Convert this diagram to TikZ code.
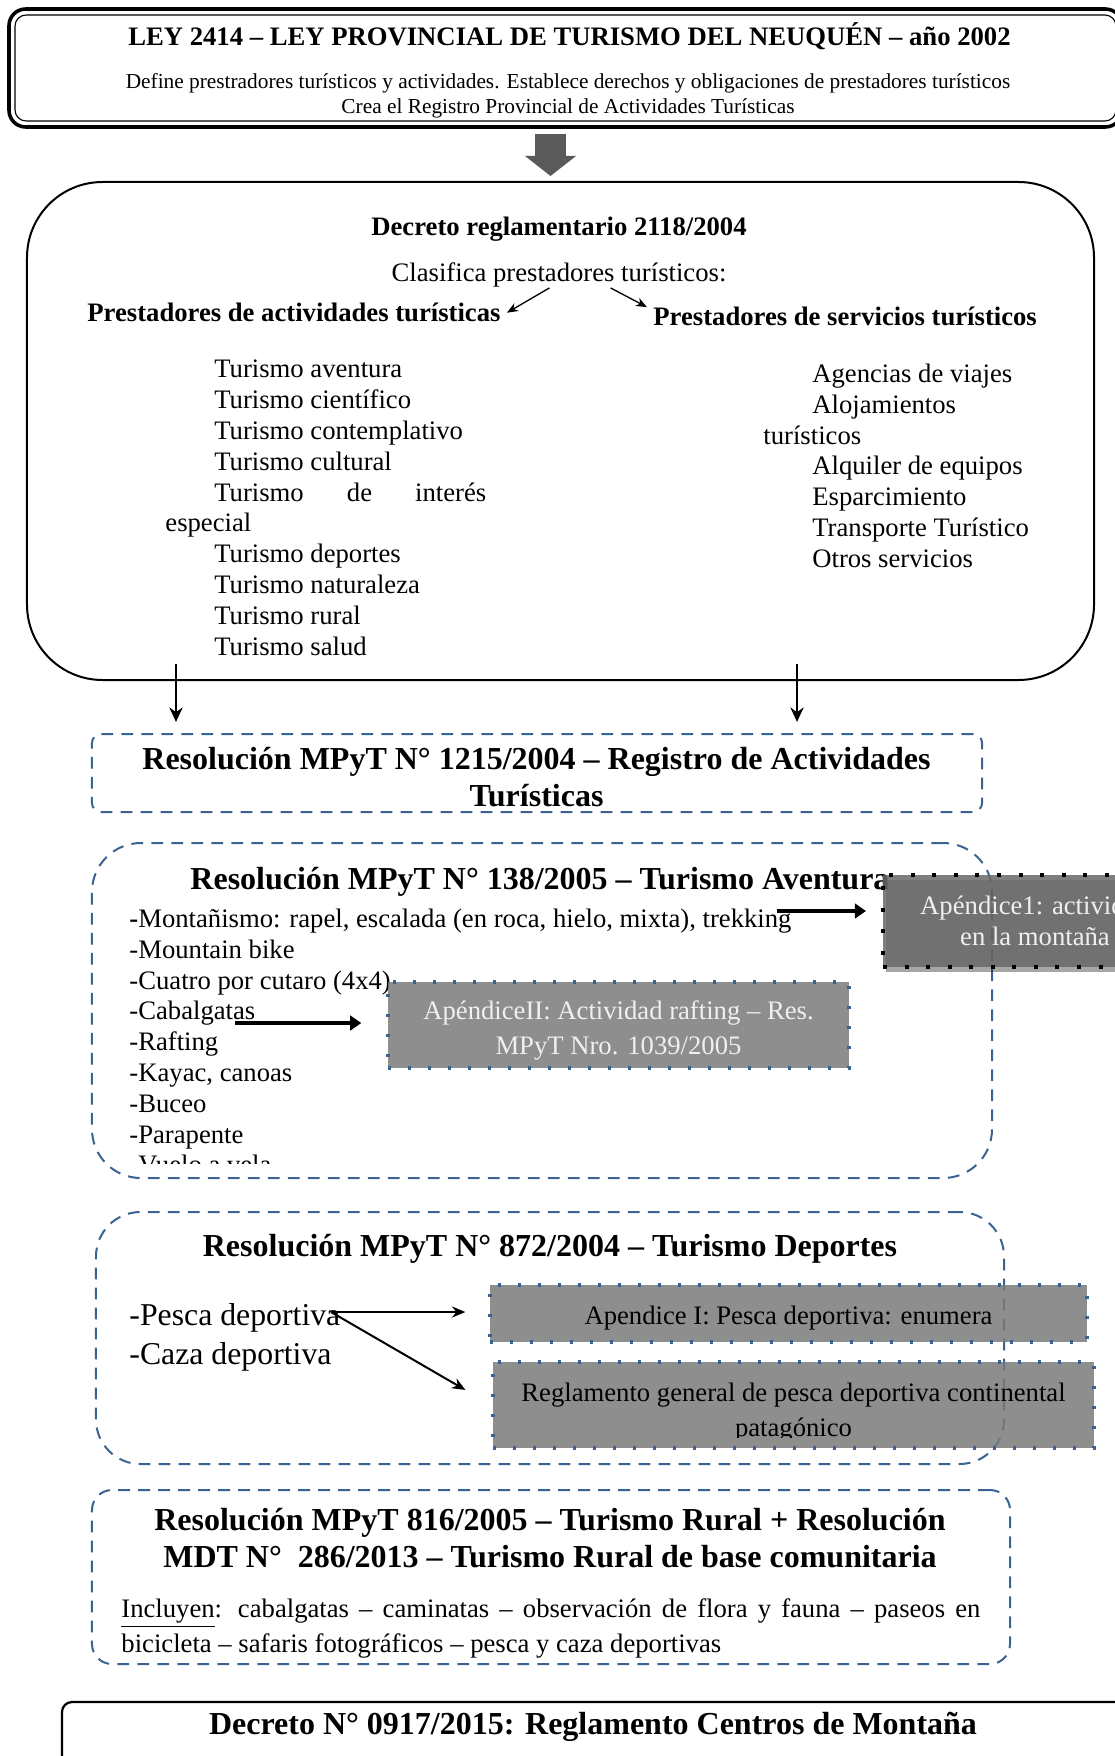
\documentclass[tikz,border=0pt]{standalone}
\usepackage{fontspec}
\setmainfont{Liberation Serif}
\usepackage{xcolor}
\usepackage{tikz}
\usetikzlibrary{arrows.meta,positioning,shadows}
\definecolor{resblue}{HTML}{3A6391}
\definecolor{boxgray}{HTML}{7A7A7A}
\definecolor{apdark}{HTML}{686868}
\definecolor{lighttext}{HTML}{F0F0F0}
\definecolor{arrowgray}{HTML}{5A5A5A}
\newcommand{\listindent}{\hspace*{22pt}}
\tikzset{
  leyframe/.style={rectangle,rounded corners=7.5pt,draw,line width=1.6pt,outer sep=0pt,inner sep=0pt},
  decframe/.style={rectangle,rounded corners=34pt,draw,line width=0.9pt,inner sep=0pt},
  resframe/.style={rectangle,draw=resblue,line width=0.9pt,dash pattern=on 5.3pt off 3.7pt,inner sep=0pt},
  apbox/.style={rectangle,fill=boxgray,fill opacity=0.85,text opacity=1,draw=resblue,line width=1.5pt,dash pattern=on 1.5pt off 7.5pt,align=center,inner sep=0pt,font=\fontsize{12}{15.75}\selectfont},
  headtext/.style={inner sep=0pt,font=\bfseries\fontsize{14.4}{16.65}\selectfont},
  boldtext/.style={inner sep=0pt,font=\bfseries\fontsize{12}{13.86}\selectfont},
  bodytext/.style={inner sep=0pt,font=\fontsize{12}{13.86}\selectfont},
  pointer/.style={-{Stealth[length=5pt,width=4pt]},line width=0.6pt},
  pesarrow/.style={-{Stealth[length=6pt,width=5pt]},line width=0.9pt},
  downarrow/.style={-{Stealth[length=6.5pt,width=6pt]},line width=0.9pt},
  fatarrow/.style={-{Triangle[length=5pt,width=6.5pt]},line width=1.6pt},
  blockarrow/.style={-{Triangle[length=9pt,width=22.5pt]},line width=14pt,draw=arrowgray}
}

\begin{document}
\begin{tikzpicture}[x=0.45pt,y=-0.45pt]
  \useasboundingbox (0,0) rectangle (1115,1756);
  \clip (0,0) rectangle (1115,1756);

  % ley 2414
  \node[leyframe,minimum width=500.85pt,minimum height=53.1pt] (ley) at (565.5,68) {};
  \draw[line width=0.5pt,rounded corners=5pt] ([shift={(2.7pt,-2.7pt)}]ley.north west) rectangle ([shift={(-2.7pt,2.7pt)}]ley.south east);
  \node[boldtext,anchor=base] (leytitle) at (569.5,45.8) {LEY 2414 – LEY PROVINCIAL DE TURISMO DEL NEUQUÉN – año 2002};
  \node[inner sep=0pt,align=center,anchor=north,font=\fontsize{9.6}{11.25}\selectfont] (leytext) at (568,72.6) {Define prestradores turísticos y actividades. Establece derechos y obligaciones de prestadores turísticos\\Crea el Registro Provincial de Actividades Turísticas};

  % decreto 2118/2004
  \coordinate (leyout) at (550.5,134);
  \node[decframe,minimum width=480.15pt,minimum height=224.1pt] (dec) at (560.5,431) {};
  \draw[blockarrow,shorten >=2.25pt] (leyout) -- (leyout |- dec.north);
  \node[boldtext,anchor=base] (dectitle) at (559,235.3) {Decreto reglamentario 2118/2004};
  \node[bodytext,anchor=base] (clasif) at (559,281.8) {Clasifica prestadores turísticos:};
  \node[boldtext,anchor=base west] (prestact) at (87,321.8) {Prestadores de actividades turísticas};
  \node[boldtext,anchor=base west] (prestserv) at (653,325.8) {Prestadores de servicios turísticos};
  \draw[pointer] ([xshift=-4.3pt]clasif.south) -- ([xshift=2.7pt]prestact.east);
  \draw[pointer] ([xshift=23.2pt]clasif.south) -- ([shift={(-2.7pt,4.3pt)}]prestserv.west);
  \node[bodytext,align=left,anchor=north west] (actlist) at (165,359.7) {\listindent Turismo aventura\\\listindent Turismo científico\\\listindent Turismo contemplativo\\\listindent Turismo cultural\\\listindent\makebox[122.4pt][s]{Turismo de interés}\\especial\\\listindent Turismo deportes\\\listindent Turismo naturaleza\\\listindent Turismo rural\\\listindent Turismo salud};
  \node[bodytext,align=left,anchor=north west] (servlist) at (763,363.5) {\listindent Agencias de viajes\\\listindent Alojamientos\\turísticos\\\listindent Alquiler de equipos\\\listindent Esparcimiento\\\listindent Transporte Turístico\\\listindent Otros servicios};

  % resolucion 1215/2004
  \coordinate (decout1) at (176,664);
  \coordinate (decout2) at (797,664);
  \node[resframe,rounded corners=4pt,minimum width=400.5pt,minimum height=35.1pt] (reg) at (537,773) {};
  \draw[downarrow,shorten >=5pt] (decout1) -- (decout1 |- reg.north);
  \draw[downarrow,shorten >=5pt] (decout2) -- (decout2 |- reg.north);
  \node[headtext,align=center] (regtitle) at (536.5,777) {Resolución MPyT N° 1215/2004 – Registro de Actividades\\Turísticas};

  % resolucion 138/2005
  \node[resframe,rounded corners=22pt,minimum width=405pt,minimum height=150.75pt] (aven) at (542,1010.5) {};
  \node[headtext,anchor=base west] (aventitle) at (190,889.5) {Resolución MPyT N° 138/2005 – Turismo Aventura};
  \begin{scope}
    \clip (100,880) rectangle (880,1163);
    \node[bodytext,align=left,anchor=north west] (avlist) at (129,908.5) {\textbf{-}Montañismo: rapel, escalada (en roca, hielo, mixta), trekking\\-Mountain bike\\-Cuatro por cutaro (4x4)\\-Cabalgatas\\-Rafting\\-Kayac, canoas\\-Buceo\\-Parapente\\-Vuelo a vela};
  \end{scope}
  \node[apbox,draw=black,fill=apdark,text=lighttext,line width=1.8pt,dash pattern=on 1.8pt off 7.9pt,drop shadow={shadow xshift=1.2pt,shadow yshift=-2.2pt,opacity=0.35,fill=black},minimum width=136.8pt,minimum height=41.4pt,font=\fontsize{12}{14}\selectfont] (apA) at (1035,921) {Apéndice1: actividad\\en la montaña};
  \node[apbox,text=lighttext,minimum width=207.45pt,minimum height=38.7pt] (apB) at (618.5,1025) {\rule{0pt}{13.5pt}ApéndiceII: Actividad rafting – Res.\\MPyT Nro. 1039/2005};
  \coordinate (trek) at (777,911);
  \coordinate (cabal) at (235,1023);
  \draw[fatarrow,shorten >=6.75pt] (trek) -- (trek -| apA.west);
  \draw[fatarrow,shorten >=11.25pt] (cabal) -- (cabal -| apB.west);

  % resolucion 872/2004
  \node[resframe,rounded corners=20pt,minimum width=408.6pt,minimum height=113.4pt] (dep) at (550,1338) {};
  \node[headtext,anchor=base] (deptitle) at (550,1256.5) {Resolución MPyT N° 872/2004 – Turismo Deportes};
  \node[inner sep=0pt,align=left,anchor=north west,font=\fontsize{14.3}{17.55}\selectfont] (peslist) at (129,1302.5) {-Pesca deportiva\\-Caza deportiva};
  \node[apbox,text=black,minimum width=268.65pt,minimum height=25.65pt] (apI) at (788.5,1313.5) {\rule{0pt}{12.2pt}Apendice I: Pesca deportiva: enumera};
  \node[apbox,minimum width=270.45pt,minimum height=38.7pt] (regl) at (793.5,1405) {};
  \begin{scope}
    \clip (regl.north west) rectangle ([yshift=5.4pt]regl.south east);
    \node[inner sep=0pt,align=center,anchor=north,font=\fontsize{12}{15.75}\selectfont] (regltext) at (793.5,1382.7) {Reglamento general de pesca deportiva continental\\patagónico};
  \end{scope}
  \coordinate (pesca) at (331,1312);
  \draw[pesarrow,shorten >=10.35pt] (pesca) -- (pesca -| apI.west);
  \draw[pesarrow,shorten >=13.5pt] (pesca) -- (regl.west);

  % resolucion 816/2005 + 286/2013
  \node[resframe,rounded corners=9pt,minimum width=413.1pt,minimum height=78.3pt] (rural) at (551,1577) {};
  \node[headtext,align=center,anchor=north] (ruraltitle) at (550,1507.8) {Resolución MPyT 816/2005 – Turismo Rural + Resolución\\MDT N°~ 286/2013 – Turismo Rural de base comunitaria};
  \node[inner sep=0pt,text width=386.55pt,align=justify,anchor=north west,font=\fontsize{12}{15.75}\selectfont] (ruraltext) at (121,1597.9) {\underline{Incluyen}: cabalgatas – caminatas – observación de flora y fauna – paseos en\linebreak bicicleta – safaris fotográficos – pesca y caza deportivas};

  % decreto 0917/2015
  \node[rectangle,draw,line width=1pt,rounded corners=4.5pt,minimum width=478.35pt,minimum height=44.1pt,inner sep=0pt] (mont) at (593.5,1751) {};
  \node[headtext,anchor=base] (monttitle) at (593,1734.5) {Decreto N° 0917/2015: Reglamento Centros de Montaña};
\end{tikzpicture}
\end{document}
